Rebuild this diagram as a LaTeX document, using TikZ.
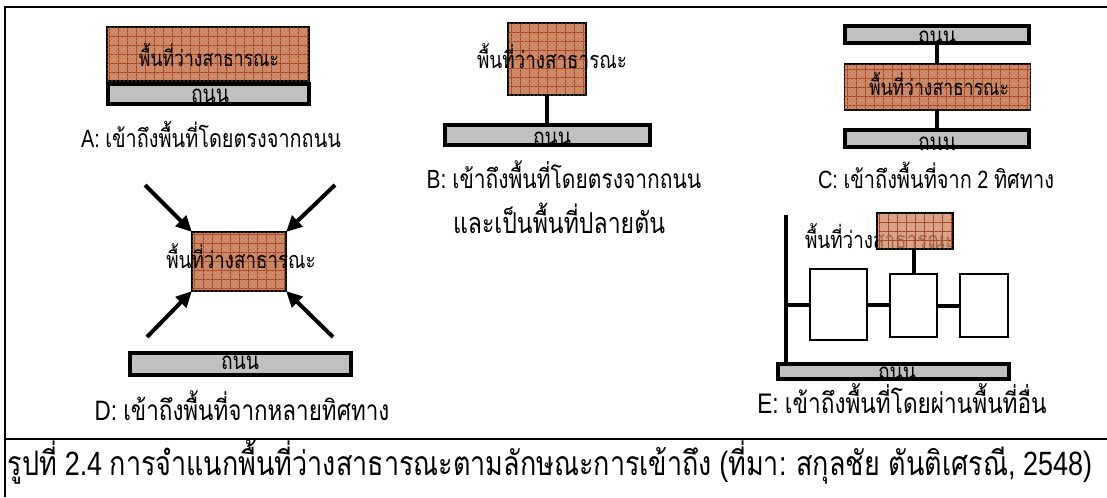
\documentclass[tikz,border=0pt]{standalone}
\usepackage{fontspec}
\setmainfont{Liberation Sans}
\newfontfamily\thai[Script=Thai]{Loma}
\usetikzlibrary{arrows.meta,patterns}
\definecolor{pubfill}{HTML}{C98461}
\definecolor{pubgrid}{HTML}{A8411C}
\definecolor{pubdot}{HTML}{E2B295}
\definecolor{roadgray}{HTML}{C0C0C0}
\newcommand\fitw[2]{\scalebox{1}[1.25]{\resizebox{#1pt}{!}{#2}}}
\begin{document}
\begin{tikzpicture}[x=0.75pt,y=-0.75pt,
  pub/.style={draw=black, line width=0.9pt, fill=pubfill, inner sep=0pt, outer sep=0pt,
    path picture={\draw[pubgrid, line width=0.5pt] ([shift={(-10pt,-10pt)}]path picture bounding box.south west) grid[step=6.75pt] ([shift={(10pt,10pt)}]path picture bounding box.north east);},
    postaction={pattern=crosshatch dots, pattern color=pubdot}},
  road/.style={draw=black, line width=2.8pt, fill=roadgray, inner sep=0pt, outer sep=0pt},
  roadline/.style={draw=black, line width=2.8pt},
  conn/.style={draw=black, line width=3pt},
  arr/.style={draw=black, line width=3pt, -{Triangle[length=12pt,width=11pt]}},
  wbox/.style={draw=black, line width=1.1pt, fill=white, inner sep=0pt, outer sep=0pt},
  txt/.style={inner sep=0pt, outer sep=0pt, anchor=base},
  frame/.style={draw=black, line width=1.5pt}]
\useasboundingbox (0,0) rectangle (1107,497);
\fill[white] (0,0) rectangle (1107,497);
% frame
\coordinate (f1) at (1107,7);
\coordinate (f2) at (5,7);
\coordinate (f3) at (5,497);
\coordinate (f4) at (5,439);
\coordinate (f5) at (1107,439);
\draw[frame] (f1) -- (f2) -- (f3);
\draw[frame] (f4) -- (f5);

% ---------- A ----------
\node[pub, minimum width=151.5pt, minimum height=40.5pt] (pubA) at (208,54) {};
\node[txt] (pubAt) at (209,66) {\fitw{105}{\thai พื้นที่ว่างสาธารณะ}};
\node[road, minimum width=151pt, minimum height=15.4pt] (roadA) at (208.5,94) {};
\node[txt] (roadAt) at (210,102) {\fitw{28.5}{\thai ถนน}};
\node[txt] (labA) at (211,147) {\fitw{195}{A: {\thai เข้าถึงพื้นที่โดยตรงจากถนน}}};

% ---------- B ----------
\node[pub, minimum width=58.5pt, minimum height=54pt] (pubB) at (547,59) {};
\node[txt] (pubBt) at (552,68) {\fitw{112.5}{\thai พื้นที่ว่างสาธารณะ}};
\node[road, minimum width=154pt, minimum height=15.4pt] (roadB) at (547.5,135) {};
\draw[conn] (pubB.south) -- (pubB.south |- roadB.north);
\node[txt] (roadBt) at (552,145) {\fitw{28.5}{\thai ถนน}};
\draw[roadline] (roadB.south west) rectangle (roadB.north east);
\node[txt] (labB1) at (564,188) {\fitw{206}{B: {\thai เข้าถึงพื้นที่โดยตรงจากถนน}}};
\node[txt] (labB2) at (559,233) {\fitw{159}{\thai และเป็นพื้นที่ปลายตัน}};

% ---------- C ----------
\node[road, minimum width=138.4pt, minimum height=13.1pt] (roadC1) at (937,34.5) {};
\node[txt] (roadC1t) at (937,44) {\fitw{28.5}{\thai ถนน}};
\draw[roadline] (roadC1.south west) rectangle (roadC1.north east);
\node[pub, minimum width=140pt, minimum height=34.5pt] (pubC) at (937.5,87) {};
\node[txt] (pubCt) at (939,95) {\fitw{105}{\thai พื้นที่ว่างสาธารณะ}};
\draw[conn] (roadC1.south) -- (roadC1.south |- pubC.north);
\node[road, minimum width=138.4pt, minimum height=13.1pt] (roadC2) at (937,138.5) {};
\draw[conn] (pubC.south -| roadC1.south) -- (roadC2.north -| roadC1.south);
\node[txt] (roadC2t) at (937,150) {\fitw{28.5}{\thai ถนน}};
\draw[roadline] (roadC2.south west) rectangle (roadC2.north east);
\node[txt] (labC) at (936,188) {\fitw{177}{C: {\thai เข้าถึงพื้นที่จาก} 2 {\thai ทิศทาง}}};

% ---------- D ----------
\node[pub, minimum width=70.5pt, minimum height=44.25pt] (pubD) at (239,261.5) {};
\node[txt] (pubDt) at (241,268) {\fitw{112}{\thai พื้นที่ว่างสาธารณะ}};
\coordinate (d1) at (145,185);
\coordinate (d2) at (335,185);
\coordinate (d3) at (147,337);
\coordinate (d4) at (333,337);
\draw[arr] (d1) -- (pubD.north west);
\draw[arr] (d2) -- (pubD.north east);
\draw[arr] (d3) -- (pubD.south west);
\draw[arr] (d4) -- (pubD.south east);
\node[road, minimum width=166pt, minimum height=16.9pt] (roadD) at (240.5,364) {};
\node[txt] (roadDt) at (240,369) {\fitw{28.5}{\thai ถนน}};
\node[txt] (labD) at (242,420) {\fitw{221}{D: {\thai เข้าถึงพื้นที่จากหลายทิศทาง}}};

% ---------- E ----------
\node[txt] (pubEt) at (880,248) {\fitw{112.5}{\thai พื้นที่ว่างสาธารณะ}};
\node[pub, minimum width=57pt, minimum height=27pt, fill opacity=0.75] (pubE) at (915,231) {};
\node[wbox, minimum width=42.75pt, minimum height=53.25pt] (wb1) at (838.5,304.5) {};
\node[wbox, minimum width=35.25pt, minimum height=47.25pt] (wb2) at (913.5,305.5) {};
\node[wbox, minimum width=36pt, minimum height=47.25pt] (wb3) at (984,305.5) {};
\node[road, minimum width=173.6pt, minimum height=11.6pt] (roadE) at (893.5,371.5) {};
\coordinate (etop) at (786,215);
\draw[conn] (etop) -- (etop |- roadE.north);
\draw[conn] (etop |- wb1.west) -- (wb1.west);
\draw[conn] (wb1.east) -- (wb1.east -| wb2.west);
\draw[conn] (wb2.east) -- (wb2.east -| wb3.west);
\draw[conn] (pubE.south -| wb2.north) -- (wb2.north);
\node[txt] (roadEt) at (897,380) {\fitw{28.5}{\thai ถนน}};
\draw[roadline] (roadE.south west) rectangle (roadE.north east);
\node[txt] (labE) at (902,413) {\fitw{217}{E: {\thai เข้าถึงพื้นที่โดยผ่านพื้นที่อื่น}}};

% ---------- caption ----------
\node[txt] (cap) at (550,475) {\fitw{813}{{\thai รูปที่} 2.4 {\thai การจำแนกพื้นที่ว่างสาธารณะตามลักษณะการเข้าถึง} ({\thai ที่มา}: {\thai สกุลชัย ตันติเศรณี}, 2548)}};
\end{tikzpicture}
\end{document}
